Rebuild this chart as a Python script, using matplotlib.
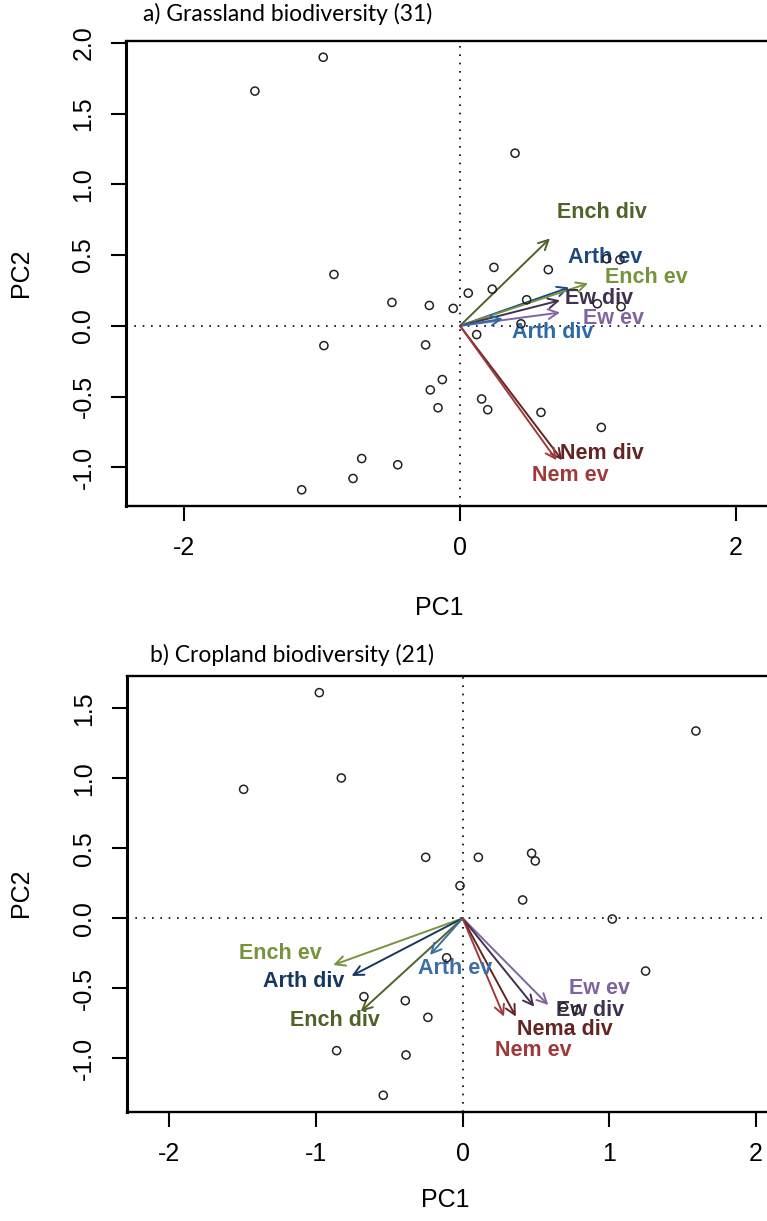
import matplotlib.pyplot as plt

W, H, DPI = 767, 1221, 100

# a) grassland: site scores
grass_pc1 = [-1.486, -0.991, -0.913, -0.493, -0.222, -0.049, 0.060, -0.986,
             -0.249, -0.128, -0.215, -0.159, -0.712, -0.451, -0.775, -1.147,
             0.246, 0.234, 0.640, 0.483, 0.121, 0.442, 1.063, 1.159, 0.995,
             1.167, 0.157, 0.201, 0.587, 1.024, 0.399]
grass_pc2 = [1.659, 1.898, 0.363, 0.165, 0.144, 0.123, 0.231, -0.140,
             -0.135, -0.380, -0.453, -0.579, -0.938, -0.982, -1.079, -1.159,
             0.413, 0.259, 0.397, 0.184, -0.062, 0.014, 0.474, 0.467, 0.156,
             0.135, -0.517, -0.593, -0.612, -0.718, 1.220]

# a) grassland: loadings (arrow tips) and label positions
grass_vars = ["Ench div", "Arth ev", "Ench ev", "Ew div", "Ew ev", "Arth div", "Nem div", "Nem ev"]
grass_load1 = [0.652, 0.790, 0.928, 0.725, 0.725, 0.310, 0.740, 0.700]
grass_load2 = [0.618, 0.271, 0.300, 0.180, 0.094, 0.050, -0.950, -0.950]
grass_lab1 = [1.03, 1.05, 1.35, 1.01, 1.11, 0.67, 1.03, 0.80]
grass_lab2 = [0.80, 0.48, 0.34, 0.19, 0.05, -0.05, -0.90, -1.06]
grass_cols = ["#4f6228", "#1f497d", "#77933c", "#403152", "#8064a2", "#2e6aa6", "#632523", "#a0393a"]

# b) cropland: site scores
crop_pc1 = [-0.977, -1.493, -0.827, -0.252, -0.018, -0.109, -0.673, -0.391,
            -0.237, -0.859, -0.386, -0.541, 0.107, 0.470, 0.495, 0.409,
            1.020, 1.590, 1.247, 0.686, 0.777]
crop_pc2 = [1.613, 0.922, 1.003, 0.436, 0.233, -0.282, -0.560, -0.589,
            -0.708, -0.946, -0.977, -1.265, 0.436, 0.465, 0.410, 0.131,
            -0.005, 1.339, -0.377, -0.636, -0.655]

# b) cropland: loadings and label positions
crop_vars = ["Ench ev", "Arth div", "Ench div", "Arth ev", "Ew ev", "Ew div", "Nema div", "Nem ev"]
crop_load1 = [-0.882, -0.757, -0.695, -0.223, 0.584, 0.488, 0.363, 0.282]
crop_load2 = [-0.334, -0.412, -0.667, -0.262, -0.620, -0.632, -0.703, -0.703]
crop_lab1 = [-1.245, -1.082, -0.870, -0.053, 0.936, 0.868, 0.697, 0.481]
crop_lab2 = [-0.25, -0.453, -0.727, -0.357, -0.500, -0.660, -0.795, -0.945]
crop_cols = ["#77933c", "#17375e", "#4f6228", "#3a6ea5", "#8064a2", "#403152", "#632523", "#a0393a"]

plt.rcParams["font.family"] = ["Liberation Sans", "DejaVu Sans"]

fig = plt.figure(figsize=(W / DPI, H / DPI), dpi=DPI)


def px_axes(left, top, right, bottom):
    return fig.add_axes([left / W, 1 - bottom / H, (right - left) / W, (bottom - top) / H])


def biplot(ax, pc1, pc2, names, l1, l2, t1, t2, cols, xlim, ylim, xticks, yticks):
    ax.set_xlim(xlim)
    ax.set_ylim(ylim)
    ax.axhline(0, color="black", lw=1.2, ls=(0, (1, 4)), zorder=1)
    ax.axvline(0, color="black", lw=1.2, ls=(0, (1, 4)), zorder=1)
    ax.scatter(pc1, pc2, s=34, facecolors="none", edgecolors="#222222", linewidths=1.1, zorder=6)
    for name, x, y, tx, ty, c in zip(names, l1, l2, t1, t2, cols):
        ax.annotate("", xy=(x, y), xytext=(0, 0),
                    arrowprops=dict(arrowstyle="->,head_length=0.7,head_width=0.35",
                                    color=c, lw=1.4, shrinkA=0, shrinkB=0), zorder=4)
        ax.text(tx, ty, name, color=c, fontsize=15.5, fontweight="bold",
                ha="center", va="center", zorder=5, clip_on=False)
    ax.set_xticks(xticks)
    ax.set_xticklabels([f"{v:g}" for v in xticks])
    ax.set_yticks(yticks)
    ax.set_yticklabels([f"{v:.1f}" for v in yticks], rotation=90, va="center")
    ax.tick_params(direction="out", length=11, width=1.5, labelsize=18, pad=11)
    for s in ax.spines.values():
        s.set_linewidth(1.7)
    ax.spines["left"].set_linewidth(2.2)


ax1 = px_axes(126, 41, 818.8, 505.5)
biplot(ax1, grass_pc1, grass_pc2, grass_vars, grass_load1, grass_load2,
       grass_lab1, grass_lab2, grass_cols, (-2.42, 2.6), (-1.27, 2.013),
       [-2, 0, 2], [-1.0, -0.5, 0.0, 0.5, 1.0, 1.5, 2.0])

ax2 = px_axes(126.7, 676, 829.4, 1111.5)
biplot(ax2, crop_pc1, crop_pc2, crop_vars, crop_load1, crop_load2,
       crop_lab1, crop_lab2, crop_cols, (-2.29, 2.5), (-1.381, 1.732),
       [-2, -1, 0, 1, 2], [-1.0, -0.5, 0.0, 0.5, 1.0, 1.5])

fig.text(143 / W, 1 - 14 / H, "a) Grassland biodiversity (31)", family="Lato",
         fontsize=16.5, va="center", ha="left")
fig.text(150 / W, 1 - 655 / H, "b) Cropland biodiversity (21)", family="Lato",
         fontsize=16.5, va="center", ha="left")

for yc in (273, 893):
    fig.text(21 / W, 1 - yc / H, "PC2", fontsize=18, rotation=90, ha="center", va="center")
fig.text(439 / W, 1 - 608 / H, "PC1", fontsize=18, ha="center", va="center")
fig.text(445 / W, 1 - 1200 / H, "PC1", fontsize=18, ha="center", va="center")

fig.savefig("out.png", dpi=DPI)
